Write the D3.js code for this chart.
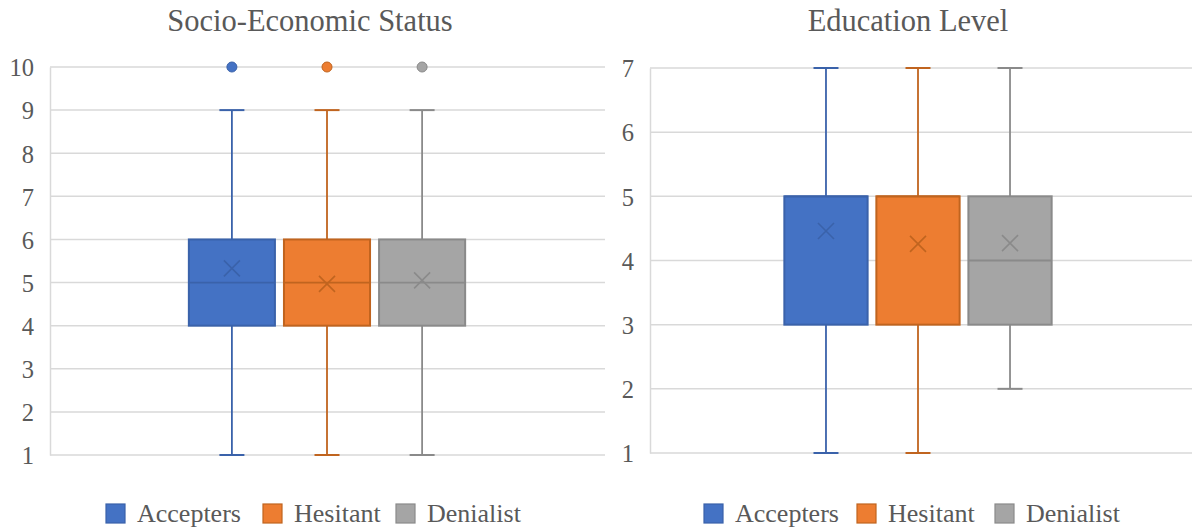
<!DOCTYPE html>
<html>
<head>
<meta charset="utf-8">
<script src="https://cdn.jsdelivr.net/npm/d3@7/dist/d3.min.js"></script>
<style>
  html, body { margin: 0; padding: 0; background: #fff; }
  svg { display: block; }
  text { font-family: "Liberation Serif", "Times New Roman", serif; fill: #595959; }
</style>
</head>
<body>
<svg id="chart" width="1192" height="532"></svg>
<script>
// Respondent groups and their colours
const groups = ["Accepters", "Hesitant", "Denialist"];
const fillColors = ["#4472C4", "#ED7D31", "#A5A5A5"];
const lineColors = ["#3A62AA", "#C0641F", "#8A8A8A"];

// Socio-Economic Status summary statistics
const sesMin = [1, 1, 1];
const sesQ1 = [4, 4, 4];
const sesMedian = [5, 5, 5];
const sesQ3 = [6, 6, 6];
const sesMax = [9, 9, 9];
const sesMean = [5.33, 4.97, 5.05];
const sesOutliers = [[10], [10], [10]];
const sesTicks = [1, 2, 3, 4, 5, 6, 7, 8, 9, 10];

// Education Level summary statistics
const eduMin = [1, 1, 2];
const eduQ1 = [3, 3, 3];
const eduMedian = [5, 5, 4];
const eduQ3 = [5, 5, 5];
const eduMax = [7, 7, 7];
const eduMean = [4.46, 4.26, 4.27];
const eduOutliers = [[], [], []];
const eduTicks = [1, 2, 3, 4, 5, 6, 7];

const svg = d3.select("#chart");

function panel(cfg) {
  const g = svg.append("g");
  const y = d3.scaleLinear().domain([cfg.ticks[0], cfg.ticks[cfg.ticks.length - 1]])
    .range([cfg.bottom, cfg.top]);
  const x = d3.scaleBand().domain(groups).range([cfg.left, cfg.right])
    .paddingInner(0.095).paddingOuter(1.46);

  // title
  g.append("text")
    .attr("x", cfg.titleX).attr("y", 31)
    .attr("text-anchor", "middle")
    .style("font-size", "30.5px")
    .text(cfg.title);

  // gridlines
  g.append("g").selectAll("line").data(cfg.ticks).join("line")
    .attr("x1", cfg.left).attr("x2", cfg.gridRight)
    .attr("y1", d => y(d)).attr("y2", d => y(d))
    .attr("stroke", "#D9D9D9").attr("stroke-width", 1.5);

  // vertical axis line and labels
  const axis = d3.axisLeft(y).tickValues(cfg.ticks).tickSize(0).tickPadding(16)
    .tickFormat(d3.format("d"));
  const ag = g.append("g").attr("transform", `translate(${cfg.left},0)`).call(axis);
  ag.select(".domain").attr("stroke", "#D9D9D9").attr("stroke-width", 1.5);
  ag.selectAll("text")
    .attr("font-family", "Liberation Serif, serif")
    .style("font-size", "24.5px").attr("fill", "#595959")
    .attr("dy", "0.36em");

  const capW = 25;
  groups.forEach((name, i) => {
    const cx = x(name) + x.bandwidth() / 2;
    const bx = x(name), bw = x.bandwidth();
    const gg = g.append("g");
    // whiskers
    gg.append("line").attr("x1", cx).attr("x2", cx)
      .attr("y1", y(cfg.q3[i])).attr("y2", y(cfg.max[i]))
      .attr("stroke", lineColors[i]).attr("stroke-width", 1.8);
    gg.append("line").attr("x1", cx).attr("x2", cx)
      .attr("y1", y(cfg.q1[i])).attr("y2", y(cfg.min[i]))
      .attr("stroke", lineColors[i]).attr("stroke-width", 1.8);
    [cfg.max[i], cfg.min[i]].forEach(v => {
      gg.append("line").attr("x1", cx - capW / 2).attr("x2", cx + capW / 2)
        .attr("y1", y(v)).attr("y2", y(v))
        .attr("stroke", lineColors[i]).attr("stroke-width", 2);
    });
    // box
    gg.append("rect")
      .attr("x", bx).attr("width", bw)
      .attr("y", y(cfg.q3[i])).attr("height", y(cfg.q1[i]) - y(cfg.q3[i]))
      .attr("fill", fillColors[i]).attr("stroke", lineColors[i]).attr("stroke-width", 2);
    // median
    gg.append("line").attr("x1", bx).attr("x2", bx + bw)
      .attr("y1", y(cfg.median[i])).attr("y2", y(cfg.median[i]))
      .attr("stroke", lineColors[i]).attr("stroke-width", 1.8);
    // mean marker
    const my = y(cfg.mean[i]), s = 8;
    gg.append("path")
      .attr("d", `M${cx - s},${my - s}L${cx + s},${my + s}M${cx - s},${my + s}L${cx + s},${my - s}`)
      .attr("stroke", lineColors[i]).attr("stroke-width", 1.6).attr("fill", "none");
    // outliers
    gg.selectAll("circle.out").data(cfg.outliers[i]).join("circle")
      .attr("class", "out")
      .attr("cx", cx).attr("cy", d => y(d)).attr("r", 5)
      .attr("fill", fillColors[i]).attr("stroke", lineColors[i]).attr("stroke-width", 1);
  });

  // legend
  const lg = g.append("g");
  groups.forEach((name, i) => {
    lg.append("rect")
      .attr("x", cfg.legendX[i]).attr("y", 504).attr("width", 19).attr("height", 19)
      .attr("fill", fillColors[i]).attr("stroke", lineColors[i]).attr("stroke-width", 1.2);
    lg.append("text")
      .attr("x", cfg.legendX[i] + 31).attr("y", 522)
      .style("font-size", "26px")
      .text(name);
  });
}

panel({
  title: "Socio-Economic Status", titleX: 310,
  left: 50, right: 604, gridRight: 605, top: 67, bottom: 455,
  ticks: sesTicks,
  min: sesMin, q1: sesQ1, median: sesMedian, q3: sesQ3, max: sesMax,
  mean: sesMean, outliers: sesOutliers,
  legendX: [106, 263, 396]
});

panel({
  title: "Education Level", titleX: 908,
  left: 650, right: 1186, gridRight: 1192, top: 68, bottom: 453,
  ticks: eduTicks,
  min: eduMin, q1: eduQ1, median: eduMedian, q3: eduQ3, max: eduMax,
  mean: eduMean, outliers: eduOutliers,
  legendX: [704, 857, 995]
});
</script>
</body>
</html>
